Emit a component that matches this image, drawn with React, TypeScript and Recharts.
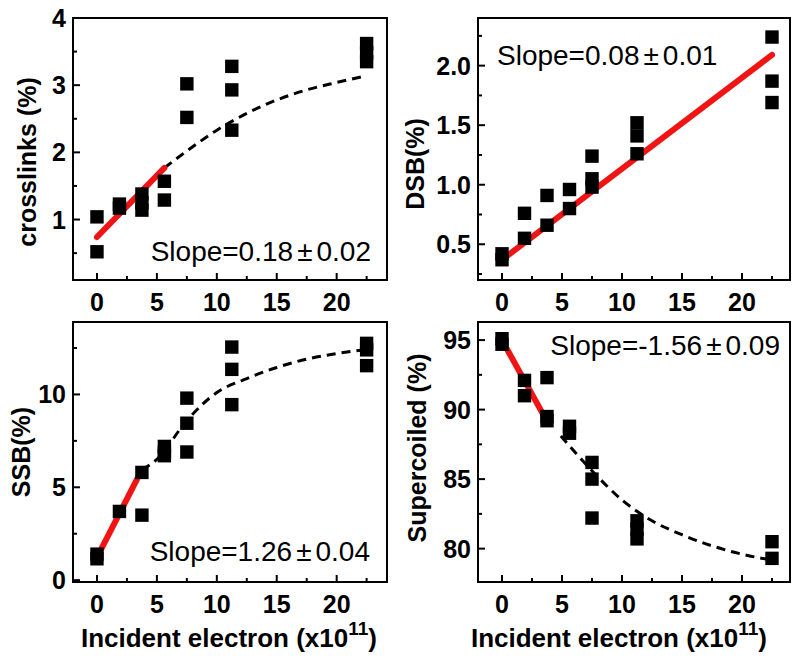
import { ComposedChart, Scatter, Line, XAxis, YAxis, ZAxis, ReferenceArea } from 'recharts';

const FONT = '"Liberation Sans", Arial, Helvetica, sans-serif';

// incident electron dose (x10^11) ticks
const xMajor = [0, 5, 10, 15, 20];
const xMinor = [2.5, 7.5, 12.5, 17.5, 22.5];

// crosslinks (%)
const crossDose = [0, 0, 1.875, 1.875, 3.75, 3.75, 3.75, 5.625, 5.625, 7.5, 7.5, 11.25, 11.25, 11.25, 22.5, 22.5, 22.5];
const crossValue = [1.04, 0.52, 1.23, 1.17, 1.38, 1.25, 1.14, 1.57, 1.29, 3.02, 2.52, 3.28, 2.93, 2.33, 3.62, 3.48, 3.35];
const crossFitDose = [0, 5.625];
const crossFitValue = [0.74, 1.77];
const crossTrendDose = [5.625, 7.5, 10, 12.5, 15, 17.5, 20, 22.5];
const crossTrendValue = [1.77, 2.02, 2.33, 2.58, 2.78, 2.93, 3.04, 3.14];

// DSB (%)
const dsbDose = [0, 0, 1.875, 1.875, 3.75, 3.75, 5.625, 5.625, 7.5, 7.5, 7.5, 11.25, 11.25, 11.25, 22.5, 22.5, 22.5];
const dsbValue = [0.42, 0.37, 0.76, 0.55, 0.91, 0.66, 0.96, 0.8, 1.24, 1.05, 0.98, 1.52, 1.41, 1.26, 2.24, 1.87, 1.69];
const dsbFitDose = [0, 22.5];
const dsbFitValue = [0.37, 2.09];

// SSB (%)
const ssbDose = [0, 0, 1.875, 3.75, 3.75, 5.625, 5.625, 5.625, 7.5, 7.5, 7.5, 11.25, 11.25, 11.25, 22.5, 22.5, 22.5];
const ssbValue = [1.4, 1.15, 3.7, 5.8, 3.5, 7.2, 6.9, 6.7, 9.8, 8.45, 6.9, 12.55, 11.35, 9.45, 12.75, 12.4, 11.55];
const ssbFitDose = [0, 3.75];
const ssbFitValue = [1.22, 5.95];
const ssbTrendDose = [3.75, 5, 7.5, 10, 12.5, 15, 17.5, 20, 22.5];
const ssbTrendValue = [5.95, 6.5, 8.6, 10.1, 10.85, 11.45, 11.9, 12.2, 12.42];

// Supercoiled (%)
const scDose = [0, 0, 1.875, 1.875, 3.75, 3.75, 3.75, 5.625, 5.625, 7.5, 7.5, 7.5, 11.25, 11.25, 11.25, 22.5, 22.5];
const scValue = [95.1, 94.7, 92.1, 91.0, 92.3, 89.5, 89.2, 88.8, 88.3, 86.2, 85.0, 82.2, 82.0, 81.4, 80.7, 80.5, 79.3];
const scFitDose = [0, 3.75];
const scFitValue = [95.0, 89.15];
const scTrendDose = [4.9, 7.5, 10, 12.5, 15, 17.5, 20, 22];
const scTrendValue = [88.1, 85.6, 83.5, 82.0, 81.0, 80.2, 79.6, 79.25];

const zip = (xs: number[], ys: number[]) => xs.map((x, i) => ({ x, y: ys[i] }));

const makeXTick = (major: number[]) => (props: any) => {
  const { x, y, payload } = props;
  const isMajor = major.includes(payload.value);
  return (
    <g>
      <line x1={x} x2={x} y1={y} y2={y - (isMajor ? 7 : 4)} stroke="#000" strokeWidth={2} />
      {isMajor && (
        <text x={x} y={y + 31} textAnchor="middle" fontFamily={FONT} fontSize={25} fontWeight="bold" fill="#000">
          {payload.value}
        </text>
      )}
    </g>
  );
};

const makeYTick = (major: number[], fmt: (v: number) => string) => (props: any) => {
  const { x, y, payload } = props;
  const isMajor = major.includes(payload.value);
  return (
    <g>
      <line x1={x} x2={x + (isMajor ? 7 : 4)} y1={y} y2={y} stroke="#000" strokeWidth={2} />
      {isMajor && (
        <text x={x - 7} y={y + 9} textAnchor="end" fontFamily={FONT} fontSize={25} fontWeight="bold" fill="#000">
          {fmt(payload.value)}
        </text>
      )}
    </g>
  );
};

interface PanelProps {
  left: number;
  top: number;
  width: number;
  height: number;
  margin: { top: number; right: number; bottom: number; left: number };
  points: { x: number; y: number }[];
  fit: { x: number; y: number }[];
  trend?: { x: number; y: number }[];
  xDomain: [number, number];
  yDomain: [number, number];
  yMajor: number[];
  yMinor: number[];
  yFormat: (v: number) => string;
  yTitle: string;
  yTitlePos: [number, number];
  xTitle?: boolean;
  xTitleDx?: number;
  slope: [string, string];
  slopePos: [number, number];
  slopeAnchor: 'start' | 'end';
}

function Panel(p: PanelProps) {
  const plotLeft = p.margin.left + 60;
  const plotBottom = p.height - p.margin.bottom - 30;
  const plotWidth = p.width - plotLeft - p.margin.right;

  const yTitle = () => {
    const cx = p.yTitlePos[0];
    const cy = p.yTitlePos[1];
    return (
      <text x={cx} y={cy} transform={`rotate(-90 ${cx} ${cy})`} textAnchor="middle" dominantBaseline="central"
        fontFamily={FONT} fontSize={25} fontWeight="bold" fill="#000">
        {p.yTitle}
      </text>
    );
  };

  const xTitle = () => {
    const cx = plotLeft + plotWidth / 2 + (p.xTitleDx ?? 0);
    const cy = plotBottom + 65;
    return (
      <text x={cx} y={cy} textAnchor="middle" fontFamily={FONT} fontSize={26} fontWeight="bold" fill="#000">
        Incident electron (x10
        <tspan dy={-12} fontSize={19}>11</tspan>
        <tspan dy={12}>)</tspan>
      </text>
    );
  };

  return (
    <div style={{ position: 'absolute', left: p.left, top: p.top }}>
      <ComposedChart width={p.width} height={p.height} margin={p.margin}>
        <XAxis type="number" dataKey="x" domain={p.xDomain} allowDataOverflow ticks={[...xMajor, ...xMinor].sort((a, b) => a - b)}
          interval={0} tickSize={0} tickMargin={0} tickLine={false} axisLine={false} tick={makeXTick(xMajor)}
          label={p.xTitle ? xTitle : undefined} />
        <YAxis type="number" dataKey="y" domain={p.yDomain} allowDataOverflow ticks={[...p.yMajor, ...p.yMinor].sort((a, b) => a - b)}
          interval={0} tickSize={0} tickMargin={0} tickLine={false} axisLine={false} tick={makeYTick(p.yMajor, p.yFormat)}
          label={yTitle} />
        <ZAxis type="number" range={[180, 180]} />
        <ReferenceArea x1={p.xDomain[0]} x2={p.xDomain[1]} y1={p.yDomain[0]} y2={p.yDomain[1]}
          fill="none" fillOpacity={0} stroke="#000" strokeWidth={2} strokeOpacity={1} />
        <Scatter data={p.points} fill="#000" shape="square" isAnimationActive={false} />
        {p.trend && (
          <Line data={p.trend} dataKey="y" type="monotone" stroke="#000" strokeWidth={3} strokeDasharray="9 6"
            dot={false} activeDot={false} isAnimationActive={false} />
        )}
        <Line data={p.fit} dataKey="y" type="linear" stroke="#f01414" strokeWidth={6} strokeLinecap="round"
          dot={false} activeDot={false} isAnimationActive={false} />
        <text x={p.slopePos[0]} y={p.slopePos[1]} textAnchor={p.slopeAnchor} fontFamily={FONT} fontSize={28} fill="#000">
          {p.slope[0]}
          <tspan dx={4}>±</tspan>
          <tspan dx={4}>{p.slope[1]}</tspan>
        </text>
      </ComposedChart>
    </div>
  );
}

export default function App() {
  const int = (v: number) => String(v);
  const one = (v: number) => v.toFixed(1);
  return (
    <div style={{ position: 'absolute', left: 0, top: 0, width: 800, height: 660, background: '#fff', overflow: 'hidden' }}>
      <Panel left={0} top={0} width={400} height={320} margin={{ top: 18, right: 13, bottom: 10, left: 13 }}
        points={zip(crossDose, crossValue)} fit={zip(crossFitDose, crossFitValue)} trend={zip(crossTrendDose, crossTrendValue)}
        xDomain={[-2, 24.2]} yDomain={[0.1, 4]} yMajor={[1, 2, 3, 4]} yMinor={[0.5, 1.5, 2.5, 3.5]} yFormat={int}
        yTitle="crosslinks (%)" yTitlePos={[27, 162]}
        slope={['Slope=0.18', '0.02']} slopePos={[371, 261]} slopeAnchor="end" />
      <Panel left={400} top={0} width={400} height={320} margin={{ top: 18, right: 10, bottom: 10, left: 18 }}
        points={zip(dsbDose, dsbValue)} fit={zip(dsbFitDose, dsbFitValue)}
        xDomain={[-2, 24]} yDomain={[0.2, 2.4]} yMajor={[0.5, 1, 1.5, 2]} yMinor={[0.25, 0.75, 1.25, 1.75, 2.25]} yFormat={one}
        yTitle="DSB(%)" yTitlePos={[15, 164]}
        slope={['Slope=0.08', '0.01']} slopePos={[97, 65]} slopeAnchor="start" />
      <Panel left={0} top={320} width={400} height={340} margin={{ top: 2, right: 13, bottom: 48, left: 13 }}
        points={zip(ssbDose, ssbValue)} fit={zip(ssbFitDose, ssbFitValue)} trend={zip(ssbTrendDose, ssbTrendValue)}
        xDomain={[-2, 24.2]} yDomain={[-0.1, 13.9]} yMajor={[0, 5, 10]} yMinor={[2.5, 7.5, 12.5]} yFormat={int}
        yTitle="SSB(%)" yTitlePos={[21, 132]} xTitle xTitleDx={-1}
        slope={['Slope=1.26', '0.04']} slopePos={[370, 241]} slopeAnchor="end" />
      <Panel left={400} top={320} width={400} height={340} margin={{ top: 2, right: 10, bottom: 48, left: 18 }}
        points={zip(scDose, scValue)} fit={zip(scFitDose, scFitValue)} trend={zip(scTrendDose, scTrendValue)}
        xDomain={[-2, 24]} yDomain={[77.6, 96.3]} yMajor={[80, 85, 90, 95]} yMinor={[82.5, 87.5, 92.5]} yFormat={int}
        yTitle="Supercoiled (%)" yTitlePos={[17, 128]} xTitle xTitleDx={-15}
        slope={['Slope=-1.56', '0.09']} slopePos={[380, 35]} slopeAnchor="end" />
    </div>
  );
}
